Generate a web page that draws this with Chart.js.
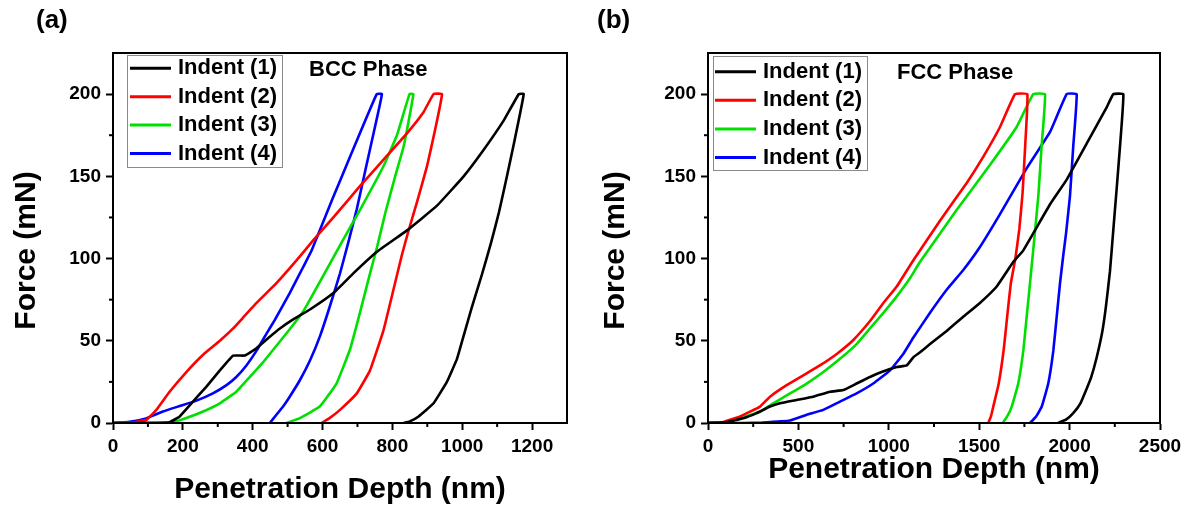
<!DOCTYPE html>
<html>
<head>
<meta charset="utf-8">
<script src="https://cdn.jsdelivr.net/npm/chart.js@4.4.0/dist/chart.umd.min.js"></script>
<style>
  body { margin: 0; background: #fff; width: 1191px; height: 512px; overflow: hidden; position: relative; }
  .panel { position: absolute; top: 0; height: 512px; }
  #left { left: 0; width: 595px; }
  #right { left: 595px; width: 596px; }
</style>
</head>
<body>
<div class="panel" id="left"><canvas id="bcc" width="595" height="512"></canvas></div>
<div class="panel" id="right"><canvas id="fcc" width="596" height="512"></canvas></div>
<script>
var seriesNames = ['Indent (1)', 'Indent (2)', 'Indent (3)', 'Indent (4)'];
var seriesColors = ['#000000', '#ff0000', '#00e000', '#0000ff'];

// BCC phase: load -> hold -> unload, depth (nm) / force (mN)
var bcc1X = [0, 100, 162, 191, 229, 267, 306, 344, 377, 411, 449, 478, 516, 564, 631, 688, 755, 841, 927, 1004, 1061, 1119, 1162, 1176, 1150, 1128, 1105, 1083, 1056, 1027, 1004, 985, 956, 918, 875, 850, 832];
var bcc1Y = [0, 0, 0.5, 4, 13, 22, 32, 41, 41, 45.5, 52.5, 57.5, 63, 69, 79, 91, 104, 117, 132, 150, 166, 184, 200, 200, 172, 150, 128, 110, 90, 70, 53, 39, 25, 12, 4, 1, 0];
var bcc2X = [0, 50, 95, 124, 162, 210, 258, 306, 344, 372, 411, 468, 526, 573, 631, 707, 774, 841, 889, 918, 942, 922, 899, 870, 845, 827, 803, 774, 736, 698, 650, 620, 597];
var bcc2Y = [0, 0.3, 1.8, 8, 19, 31, 41.5, 50, 57.5, 64, 73, 85, 99, 111, 125, 144, 160, 176, 189, 200, 200, 178, 156, 134, 116, 102, 81, 56, 32, 18, 8, 3, 0];
var bcc3X = [0, 100, 172, 210, 258, 306, 353, 392, 430, 468, 506, 545, 564, 650, 707, 774, 813, 849, 860, 846, 832, 808, 780, 755, 736, 707, 679, 640, 592, 535, 497];
var bcc3Y = [0, 0.2, 0.5, 3, 7, 12, 19, 28, 37, 47, 57, 68, 75, 108, 129.5, 156, 175, 200, 200, 183, 168, 150, 128, 106, 91, 67, 45, 24, 10, 3, 0];
var bcc4X = [0, 47, 95, 143, 191, 239, 286, 325, 353, 382, 411, 440, 463, 506, 545, 569, 628, 679, 755, 770, 748, 727, 698, 674, 650, 621, 593, 564, 535, 506, 487, 468, 449];
var bcc4Y = [0, 0.8, 2.8, 7, 10.3, 13.6, 18, 23, 28, 35, 44, 54.5, 62.6, 79, 95, 105, 136, 162, 200, 200, 178, 158, 130, 110, 91, 71, 53, 38, 26, 16, 10, 5, 0];

// FCC phase
var fcc1X = [0, 100, 200, 269, 343, 398, 490, 582, 675, 748, 822, 896, 960, 1044, 1099, 1136, 1173, 1228, 1320, 1412, 1504, 1597, 1689, 1744, 1892, 1984, 2095, 2205, 2242, 2297, 2280, 2260, 2240, 2223, 2200, 2180, 2150, 2120, 2095, 2060, 2020, 1980, 1937];
var fcc1Y = [0, 0.5, 3, 6, 10, 12, 14, 16, 19, 20, 24, 28, 31, 34, 35, 40, 43, 48, 56, 64.6, 73, 83, 98, 105, 133, 148, 170, 192, 200, 200, 170, 142, 115, 92, 70, 55, 40, 28, 21, 12, 6, 2, 0];
var fcc2X = [0, 85, 177, 288, 343, 435, 527, 619, 712, 804, 896, 970, 1044, 1136, 1283, 1431, 1523, 1615, 1698, 1766, 1755, 1740, 1722, 1700, 1675, 1655, 1636, 1608, 1578, 1565, 1550];
var fcc2Y = [0, 0.6, 4, 10, 16, 23, 29, 35, 42, 50.5, 62, 73, 83, 99, 123, 146, 162, 180, 200, 200, 170, 140, 118, 100, 85, 65, 45, 24, 10, 4, 0];
var fcc3X = [0, 85, 177, 288, 361, 454, 546, 638, 730, 822, 896, 970, 1044, 1117, 1173, 1375, 1560, 1707, 1799, 1864, 1845, 1827, 1796, 1781, 1763, 1744, 1716, 1680, 1655, 1630];
var fcc3Y = [0, 0.5, 3, 7, 12, 18, 24, 31, 39, 48, 57.5, 67, 77, 88, 98, 129.5, 157, 180, 200, 200, 168, 138, 102, 85, 65, 44, 24, 10, 4, 0];
var fcc4X = [0, 200, 300, 454, 546, 638, 730, 822, 914, 1007, 1080, 1136, 1228, 1320, 1412, 1504, 1615, 1763, 1892, 1984, 2039, 2020, 2002, 1980, 1965, 1947, 1929, 1910, 1882, 1846, 1815, 1781];
var fcc4Y = [0, 0, 0.3, 1.5, 5, 8, 13, 18, 24, 32, 42, 52, 67, 81, 93, 107, 127, 155, 177, 200, 200, 168, 138, 115, 102, 85, 65, 44, 24, 10, 4, 0];

var yTicksStep = 50;
var bccXStep = 200;
var fccXStep = 500;

Chart.defaults.font.family = '"Liberation Sans", Arial, sans-serif';
Chart.defaults.color = '#000';

function toPoints(xs, ys) {
  return xs.map(function(x, i) { return {x: x, y: ys[i]}; });
}

// frame, minor ticks, legend and labels
var panelDecor = {
  id: 'panelDecor',
  afterDraw: function(chart, args, opts) {
    var ctx = chart.ctx;
    var a = chart.chartArea;
    ctx.save();
    ctx.strokeStyle = '#000';
    ctx.lineWidth = 2;
    ctx.strokeRect(a.left, a.top, a.right - a.left, a.bottom - a.top);

    ['x', 'y'].forEach(function(id) {
      var s = chart.scales[id];
      var step = s.options.ticks.stepSize;
      for (var v = s.min + step / 2; v < s.max; v += step) {
        var p = s.getPixelForValue(v);
        ctx.beginPath();
        if (id === 'x') { ctx.moveTo(p, a.bottom); ctx.lineTo(p, a.bottom + 4); }
        else { ctx.moveTo(a.left, p); ctx.lineTo(a.left - 4, p); }
        ctx.stroke();
      }
    });

    // legend box
    var bx = a.left + opts.boxDx, by = a.top + opts.boxDy;
    ctx.lineWidth = 1;
    ctx.strokeStyle = '#8a8a8a';
    ctx.strokeRect(bx + 0.5, by + 0.5, opts.boxW, opts.boxH);
    ctx.font = 'bold 22px "Liberation Sans", Arial, sans-serif';
    ctx.textBaseline = 'middle';
    ctx.textAlign = 'left';
    chart.data.datasets.forEach(function(ds, i) {
      var y = opts.rowY + i * opts.rowGap;
      ctx.strokeStyle = ds.borderColor;
      ctx.lineWidth = 3;
      ctx.beginPath();
      ctx.moveTo(bx + opts.lineDx, y);
      ctx.lineTo(bx + opts.lineDx + 41, y);
      ctx.stroke();
      ctx.fillStyle = '#000';
      ctx.fillText(ds.label, bx + opts.textDx, y);
    });

    ctx.fillStyle = '#000';
    ctx.font = 'bold 22px "Liberation Sans", Arial, sans-serif';
    ctx.fillText(opts.phase, opts.phaseX, opts.phaseY);
    ctx.font = 'bold 26px "Liberation Sans", Arial, sans-serif';
    ctx.fillText(opts.tag, opts.tagX, 21);
    ctx.restore();
  }
};

function makeChart(id, xsList, ysList, xMax, xStep, padRight, yTitlePad, xTitlePad, decor) {
  var datasets = xsList.map(function(xs, i) {
    return {
      label: seriesNames[i],
      data: toPoints(xs, ysList[i]),
      borderColor: seriesColors[i],
      backgroundColor: seriesColors[i],
      showLine: true,
      pointRadius: 0,
      borderWidth: 2.6,
      tension: 0.1
    };
  });
  return new Chart(document.getElementById(id), {
    type: 'scatter',
    data: { datasets: datasets },
    plugins: [panelDecor],
    options: {
      responsive: false,
      animation: false,
      layout: { padding: { top: 53, right: padRight, left: 0, bottom: 0 } },
      plugins: {
        legend: { display: false },
        tooltip: { enabled: false },
        panelDecor: decor
      },
      scales: {
        x: {
          type: 'linear', min: 0, max: xMax,
          ticks: {
            stepSize: xStep, includeBounds: false, maxRotation: 0, padding: 5, color: '#000',
            font: { size: 19, weight: 'bold' },
            callback: function(v) { return String(v); }
          },
          grid: { drawOnChartArea: false, drawTicks: true, tickLength: 7, tickWidth: 2, tickColor: '#000' },
          border: { color: '#000', width: 2 },
          title: { display: true, text: 'Penetration Depth (nm)', color: '#000', font: { size: 30, weight: 'bold' }, padding: { top: 0, bottom: xTitlePad } },
          afterFit: function(s) { s.height = 89; }
        },
        y: {
          type: 'linear', min: 0, max: 225,
          ticks: {
            stepSize: yTicksStep, includeBounds: false, padding: 5, color: '#000',
            font: { size: 19, weight: 'bold' },
            callback: function(v) { return String(v); }
          },
          grid: { drawOnChartArea: false, drawTicks: true, tickLength: 7, tickWidth: 2, tickColor: '#000' },
          border: { color: '#000', width: 2 },
          title: { display: true, text: 'Force (mN)   ', color: '#000', font: { size: 30, weight: 'bold' }, padding: { top: yTitlePad, bottom: 0 } },
          afterFit: function(s) { s.width = 113; }
        }
      }
    }
  });
}

makeChart('bcc', [bcc1X, bcc2X, bcc3X, bcc4X], [bcc1Y, bcc2Y, bcc3Y, bcc4Y], 1300, bccXStep, 28, 9, 4, {
  boxDx: 14, boxDy: 2, boxW: 155, boxH: 112, lineDx: 3, textDx: 51, rowY: 68.3, rowGap: 28.4,
  phase: 'BCC Phase', phaseX: 309, phaseY: 70, tag: '(a)', tagX: 36
});
makeChart('fcc', [fcc1X, fcc2X, fcc3X, fcc4X], [fcc1Y, fcc2Y, fcc3Y, fcc4Y], 2500, fccXStep, 31, 3, 24, {
  boxDx: 5, boxDy: 3, boxW: 154, boxH: 114, lineDx: 2, textDx: 50, rowY: 71.7, rowGap: 28.6,
  phase: 'FCC Phase', phaseX: 302, phaseY: 73, tag: '(b)', tagX: 2
});
</script>
</body>
</html>
